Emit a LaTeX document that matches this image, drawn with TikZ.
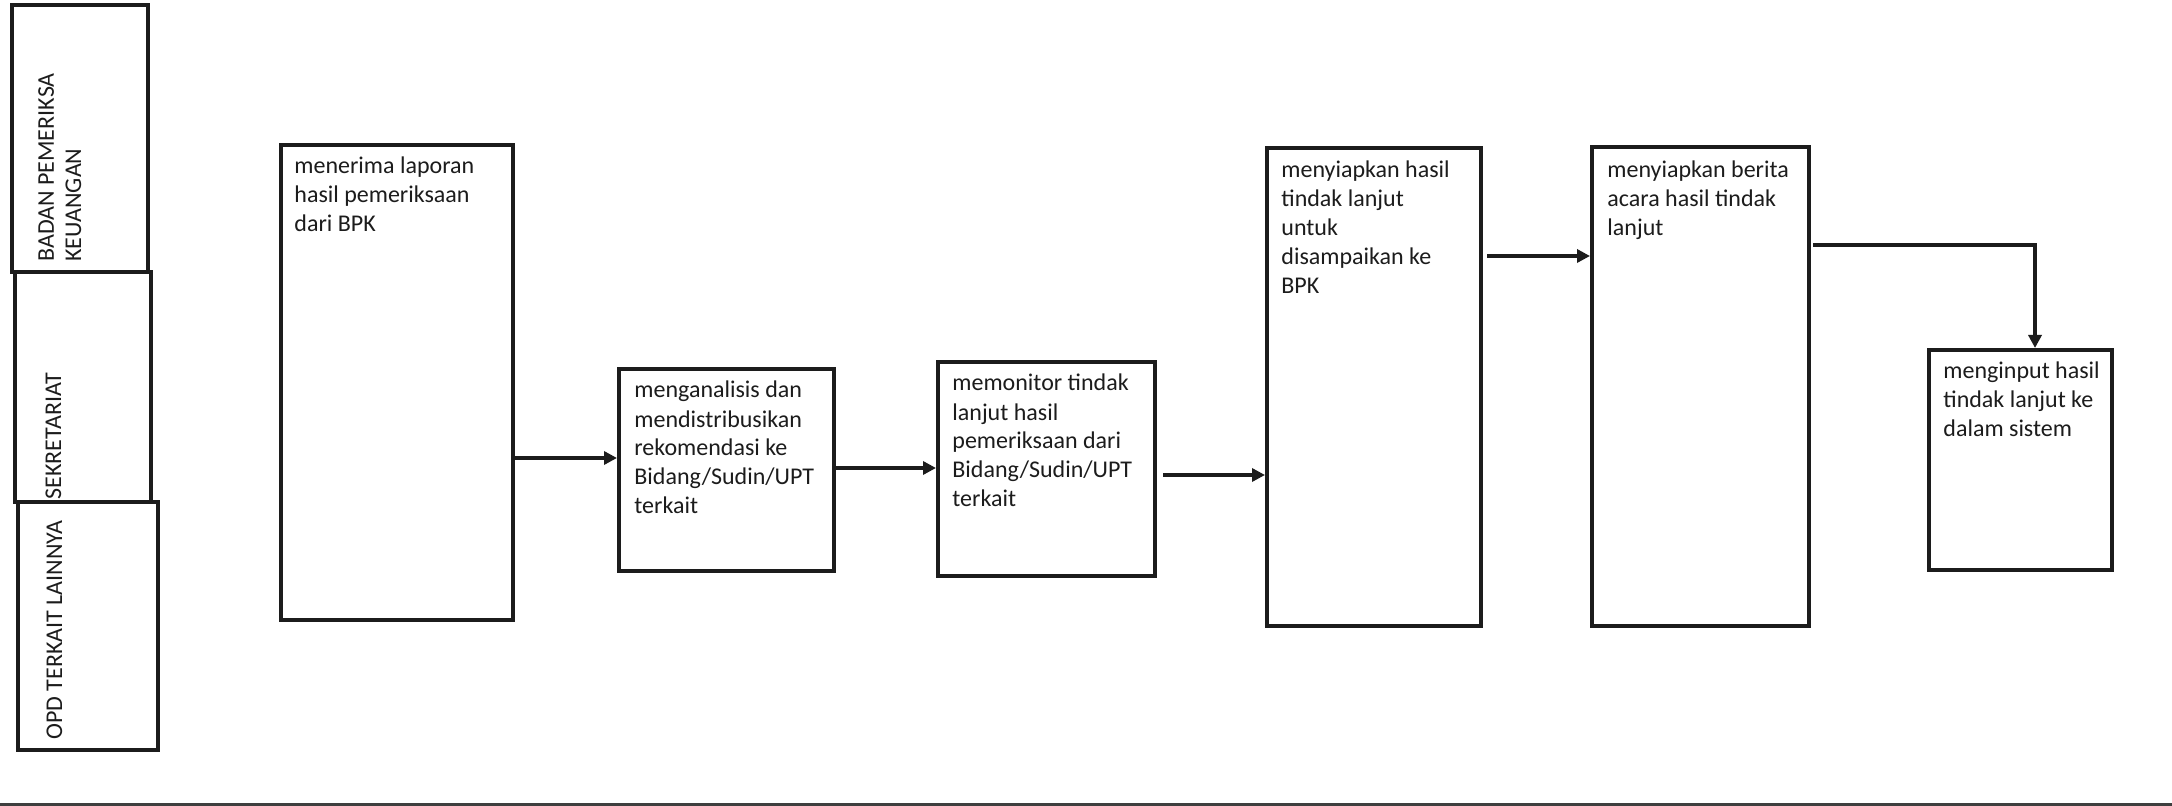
\documentclass[tikz,border=0pt]{standalone}
\usepackage{fontspec}
\setmainfont{Carlito}
\usetikzlibrary{arrows.meta}
\definecolor{ink}{HTML}{1C1C1C}
\begin{document}
\begin{tikzpicture}[x=0.5pt,y=-0.5pt,
  lane/.style={draw=ink, line width=2.2pt, anchor=north west, inner sep=0pt, outer sep=0pt},
  lanetext/.style={rotate=90, anchor=base west, inner sep=0pt, align=left,
    font=\fontsize{12pt}{13.5pt}\selectfont, text=ink},
  stepbox/.style={draw=ink, line width=2pt, anchor=north west, inner sep=0pt},
  steptext/.style={anchor=base west, inner sep=0pt, align=left,
    font=\fontsize{12pt}{14.5pt}\selectfont, text=ink},
  flow/.style={draw=ink, line width=2pt, -{Triangle[length=6.5pt,width=6.5pt]}}]
\useasboundingbox (0,0) rectangle (2172,806);
\fill[white] (0,0) rectangle (2172,806);

% swimlane headers
\node[lane, minimum width=68pt, minimum height=133.5pt] (l1) at (12,5) {};
\node[lane, minimum width=68pt, minimum height=115pt] (l2) at (15,272) {};
\node[lane, minimum width=70pt, minimum height=124pt] (l3) at (18,502) {};
% multi-line nodes sit on the baseline of their last line
\node[lanetext] (l1t) at (81,262) {BADAN PEMERIKSA\\KEUANGAN};
\node[lanetext] (l2t) at (61,500) {SEKRETARIAT};
\node[lanetext] (l3t) at (62,740) {OPD TERKAIT LAINNYA};

% process steps
\node[stepbox, minimum width=116pt, minimum height=237.5pt] (b1) at (279,143) {};
\node[stepbox, minimum width=107.5pt, minimum height=101pt] (b2) at (617,367) {};
\node[stepbox, minimum width=108.5pt, minimum height=107pt] (b3) at (936,360) {};
\node[stepbox, minimum width=107pt, minimum height=239pt] (b4) at (1265,146) {};
\node[stepbox, minimum width=108.5pt, minimum height=239.5pt] (b5) at (1590,145) {};
\node[stepbox, minimum width=91.5pt, minimum height=110pt] (b6) at (1927,348) {};

\node[steptext] (b1t) at (294,232) {menerima laporan\\hasil pemeriksaan\\dari BPK};
\node[steptext] (b2t) at (634,514) {menganalisis dan\\mendistribusikan\\rekomendasi ke\\Bidang/Sudin/UPT\\terkait};
\node[steptext] (b3t) at (952,507) {memonitor tindak\\lanjut hasil\\pemeriksaan dari\\Bidang/Sudin/UPT\\terkait};
\node[steptext] (b4t) at (1281,294) {menyiapkan hasil\\tindak lanjut\\untuk\\disampaikan ke\\BPK};
\node[steptext] (b5t) at (1607,236) {menyiapkan berita\\acara hasil tindak\\lanjut};
\node[steptext] (b6t) at (1943,437) {menginput hasil\\tindak lanjut ke\\dalam sistem};

% connector levels
\coordinate (r1) at (0,458);
\coordinate (r2) at (0,468);
\coordinate (r3) at (0,475);
\coordinate (r4) at (0,256);
\coordinate (r5) at (0,245);
\coordinate (c6) at (2035,0);

\draw[flow] (b1.east |- r1) -- (b2.west |- r1);
\draw[flow] (b2.east |- r2) -- (b3.west |- r2);
\draw[flow] ([xshift=3pt]b3.east |- r3) -- (b4.west |- r3);
\draw[flow] ([xshift=2pt]b4.east |- r4) -- (b5.west |- r4);
\draw[flow] ([xshift=1pt]b5.east |- r5) -| (b6.north -| c6);

% page edge rule
\draw[line width=1.5pt, ink!85] (0,804) -- (2172,804);
\end{tikzpicture}
\end{document}
